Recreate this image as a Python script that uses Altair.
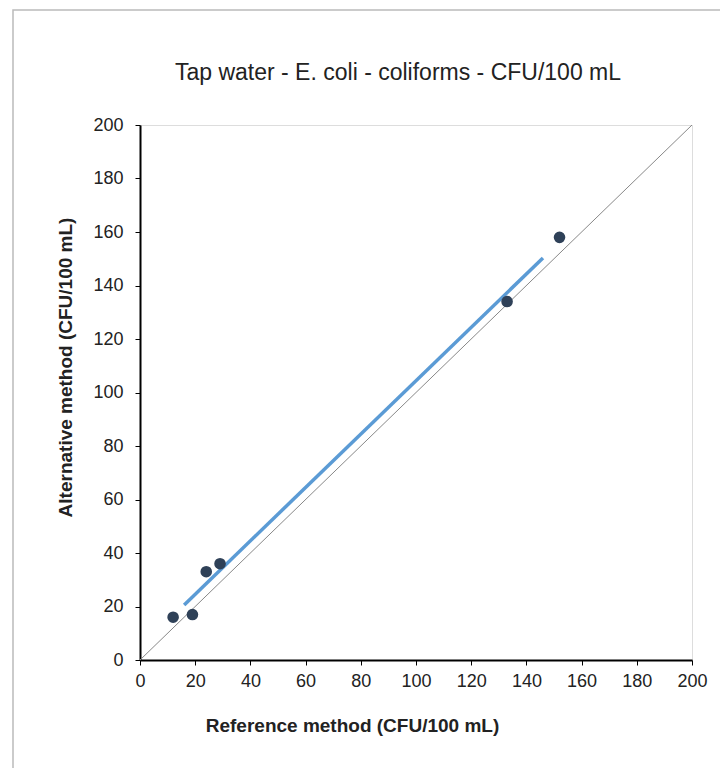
import altair as alt
import pandas as pd

ref = [12, 19, 24, 29, 133, 152]
alt_vals = [16, 17, 33, 36, 134, 158]
trend_x = [16, 146]
trend_y = [20.6, 150.3]
diag = [0, 200]
ticks = [0, 20, 40, 60, 80, 100, 120, 140, 160, 180, 200]

pts = pd.DataFrame({"x": ref, "y": alt_vals})
trend = pd.DataFrame({"x": trend_x, "y": trend_y})
dg = pd.DataFrame({"x": diag, "y": diag})

W, H = 552, 535

xs = alt.Scale(domain=[0, 200], nice=False)
ys = alt.Scale(domain=[0, 200], nice=False)

xax = alt.Axis(values=ticks, grid=False, domainColor="black", domainWidth=2,
               tickColor="black", tickSize=5, tickWidth=1, labelFontSize=18,
               labelColor="#222", labelFont="Liberation Sans", labelPadding=7,
               labelFlush=False, labelOverlap=False,
               title="Reference method (CFU/100 mL)", titleFont="Liberation Sans",
               titleFontSize=19, titleFontWeight="bold", titleColor="#222",
               titleX=212, titleY=71, titleBaseline="alphabetic", titleAnchor="middle")
yax = alt.Axis(values=ticks, grid=False, domainColor="black", domainWidth=2,
               tickColor="black", tickSize=5, tickWidth=1, labelFontSize=18,
               labelColor="#222", labelFont="Liberation Sans", labelPadding=12,
               labelFlush=False, labelOverlap=False,
               title="Alternative method (CFU/100 mL)", titleFont="Liberation Sans",
               titleFontSize=19, titleFontWeight="bold", titleColor="#222",
               titleX=-75, titleY=242, titleBaseline="middle", titleAngle=-90)

border = alt.Chart(pd.DataFrame({"a": [0]})).mark_rect(
    fill=None, stroke="#bbbbbb", strokeWidth=1.5
).encode(x=alt.value(-127), y=alt.value(-115), x2=alt.value(W + 200), y2=alt.value(H + 200))

title = alt.Chart(pd.DataFrame({"t": ["Tap water - E. coli - coliforms - CFU/100 mL"]})).mark_text(
    font="Liberation Sans", fontSize=23, color="#222", align="center", baseline="alphabetic"
).encode(text="t:N", x=alt.value(258), y=alt.value(-45))

diag_line = alt.Chart(dg).mark_line(color="#888888", strokeWidth=1).encode(
    x=alt.X("x:Q", scale=xs, axis=xax), y=alt.Y("y:Q", scale=ys, axis=yax))

trend_line = alt.Chart(trend).mark_line(color="#5B9BD5", strokeWidth=3.5).encode(
    x=alt.X("x:Q", scale=xs), y=alt.Y("y:Q", scale=ys))

points = alt.Chart(pts).mark_circle(color="#2f4158", opacity=1, size=135).encode(
    x=alt.X("x:Q", scale=xs), y=alt.Y("y:Q", scale=ys))

chart = alt.layer(border, title, diag_line, trend_line, points).properties(
    width=W, height=H,
    autosize=alt.AutoSizeParams(type="none"),
    padding={"left": 140, "top": 125, "right": 28, "bottom": 108},
).configure_view(stroke="#666666", strokeWidth=2).configure(background="white")

chart.save("out.html", embed_options={"renderer": "svg", "actions": False})
